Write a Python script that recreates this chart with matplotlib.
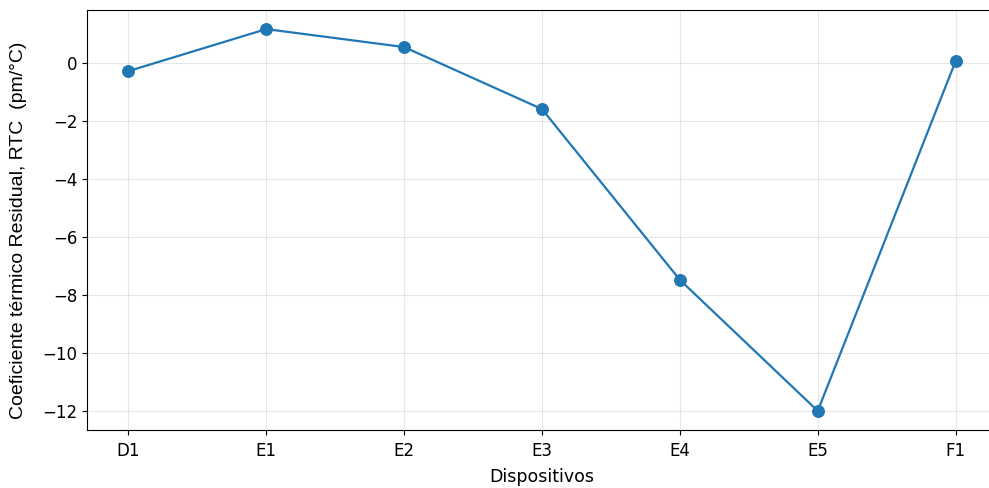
import matplotlib
matplotlib.use("Agg")
import matplotlib.pyplot as plt

dispositivos = ["D1", "E1", "E2", "E3", "E4", "E5", "F1"]
rtc = [-0.28, 1.17, 0.55, -1.59, -7.48, -12.0, 0.07]

fig = plt.figure(figsize=(9.89, 4.88), dpi=100)
ax = fig.add_axes([87 / 989, 58 / 488, 910 / 989, 420 / 488])

ax.plot(dispositivos, rtc, marker="o", markersize=8.3, linewidth=1.6, color="tab:blue")
ax.grid(True, alpha=0.3)
ax.spines["right"].set_visible(False)
ax.tick_params(labelsize=12)
ax.tick_params(axis="x", pad=5)
ax.set_xlabel("Dispositivos", fontsize=12.5, labelpad=6)

# y label sits a little lower than the axes centre in the original
fig.text(19 / 989, 1 - 230 / 488, "Coeficiente térmico Residual, RTC  (pm/°C)",
         rotation=90, ha="center", va="center",
         fontfamily="Liberation Sans", fontsize=14)

fig.savefig("out.png", dpi=100)
